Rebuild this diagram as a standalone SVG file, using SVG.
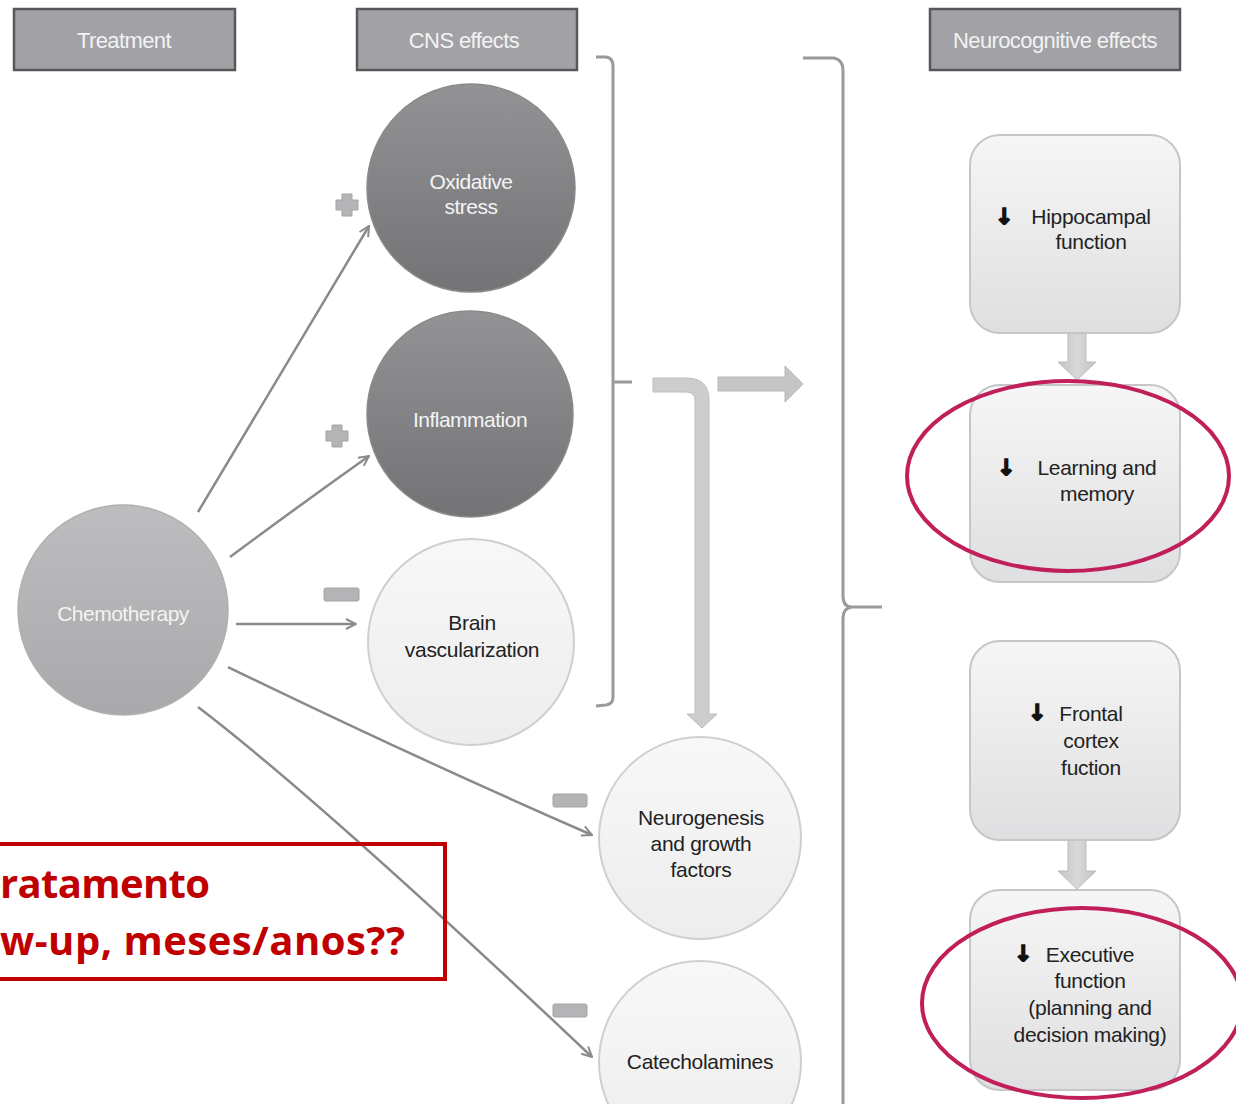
<svg xmlns="http://www.w3.org/2000/svg" width="1236" height="1104" viewBox="0 0 1236 1104">
<style>
.hdr{fill:#a2a2a6;stroke:#58585a;stroke-width:2.5}
.htxt{font-family:"Liberation Sans",Arial,sans-serif;font-size:22px;fill:#f2f2f2;text-anchor:middle;letter-spacing:-0.6px}
.wtxt{font-family:"Liberation Sans",Arial,sans-serif;font-size:21px;fill:#f4f4f4;text-anchor:middle;letter-spacing:-0.5px}
.btxt{font-family:"Liberation Sans",Arial,sans-serif;font-size:21px;fill:#222;text-anchor:middle;letter-spacing:-0.3px}
.arrtxt{font-family:"DejaVu Sans",sans-serif;font-weight:bold;font-size:22px;fill:#111;stroke:#111;stroke-width:1.6}
.conn{stroke:#8a8a8a;stroke-width:2.5;fill:none}
.brk{stroke:#9a9a9a;stroke-width:3;fill:none}
.sign{fill:#b4b4b6;stroke:#a4a4a6;stroke-width:1}
.lite{fill:url(#lightC);stroke:#cfcfcf;stroke-width:2}
.dark{fill:url(#darkC);stroke:#8a8a8c;stroke-width:1.5}
.box{fill:url(#boxG);stroke:#c6c6c8;stroke-width:2}
.red{fill:none;stroke:#c01f5a;stroke-width:4}
.redtxt{font-family:"Open Sans","Liberation Sans",sans-serif;font-weight:bold;font-size:40px;fill:#c00000}
</style>
<defs>
<linearGradient id="darkC" x1="0" y1="0" x2="0" y2="1">
<stop offset="0" stop-color="#939396"/><stop offset="1" stop-color="#737376"/>
</linearGradient>
<linearGradient id="chemoC" x1="0" y1="0" x2="0" y2="1">
<stop offset="0" stop-color="#bdbdbf"/><stop offset="1" stop-color="#a9a9ac"/>
</linearGradient>
<linearGradient id="lightC" x1="0" y1="0" x2="0" y2="1">
<stop offset="0" stop-color="#f8f8f8"/><stop offset="1" stop-color="#ededed"/>
</linearGradient>
<linearGradient id="boxG" x1="0" y1="0" x2="0" y2="1">
<stop offset="0" stop-color="#f6f6f6"/><stop offset="1" stop-color="#dfdfe1"/>
</linearGradient>
<linearGradient id="thickV" x1="0" y1="0" x2="1" y2="0">
<stop offset="0" stop-color="#c4c4c4"/><stop offset="0.5" stop-color="#d8d8d8"/><stop offset="1" stop-color="#c4c4c4"/>
</linearGradient>
<marker id="ah" viewBox="0 0 12 12" refX="11" refY="6" markerWidth="12" markerHeight="12" markerUnits="userSpaceOnUse" orient="auto">
<path d="M1,1 L11,6 L1,11" fill="none" stroke="#8a8a8a" stroke-width="2"/>
</marker>
</defs>
<rect width="1236" height="1104" fill="#ffffff"/>

<g id="hdr-treatment"><rect class="hdr" x="14" y="9" width="221" height="61"/><text class="htxt" x="124" y="48">Treatment</text></g>
<g id="hdr-cns"><rect class="hdr" x="357" y="9" width="220" height="61"/><text class="htxt" x="464" y="48">CNS effects</text></g>
<g id="hdr-neuro"><rect class="hdr" x="930" y="9" width="250" height="61"/><text class="htxt" x="1055" y="48">Neurocognitive effects</text></g>

<g id="connectors">
<path class="conn" d="M198,512 L369,226" marker-end="url(#ah)"/>
<path class="conn" d="M230,557 Q300,505 369,456" marker-end="url(#ah)"/>
<path class="conn" d="M236,624 L356,624" marker-end="url(#ah)"/>
<path class="conn" d="M228,667 Q420,760 592,835" marker-end="url(#ah)"/>
<path class="conn" d="M198,707 Q320,800 592,1057" marker-end="url(#ah)"/>
<path class="brk" d="M596,57 L606,57 Q613,58 613,66 L613,697 Q613,704 606,705 L596,706 M613,382 L632,382"/>
<path class="brk" d="M803,58 L834,58 Q843,60 843,70 L843,596 Q843,607 852,607 L882,607 M852,607 Q843,608 843,618 L843,1104"/>
<path d="M653,378 L686,378 Q709,378 709,400 L709,714 L717,714 L702,728 L687,714 L695,714 L695,400 Q695,392 686,392 L653,392 Z" fill="#cdcdcd" stroke="#bdbdbd" stroke-width="1"/>
<path d="M718,377 L785,377 L785,366 L803,384 L785,402 L785,391 L718,391 Z" fill="#c6c6c6" stroke="#b8b8b8" stroke-width="1"/>
<path d="M1068,333 L1086,333 L1086,362 L1096,362 L1077,380 L1058,362 L1068,362 Z" fill="url(#thickV)" stroke="#bcbcbc" stroke-width="1"/>
<path d="M1068,840 L1086,840 L1086,871 L1096,871 L1077,889 L1058,871 L1068,871 Z" fill="url(#thickV)" stroke="#bcbcbc" stroke-width="1"/>
<path class="sign" d="M342,194 h10 v6 h6 v10 h-6 v6 h-10 v-6 h-6 v-10 h6 z"/>
<path class="sign" d="M332,425 h10 v6 h6 v10 h-6 v6 h-10 v-6 h-6 v-10 h6 z"/>
<rect class="sign" x="324" y="588" width="35" height="13" rx="2"/>
<rect class="sign" x="553" y="794" width="34" height="13" rx="2"/>
<rect class="sign" x="553" y="1004" width="34" height="13" rx="2"/>
</g>

<g id="node-oxidative"><circle class="dark" cx="471" cy="188" r="104"/><text class="wtxt" x="471" y="189">Oxidative</text><text class="wtxt" x="471" y="214">stress</text></g>
<g id="node-inflammation"><circle class="dark" cx="470" cy="414" r="103"/><text class="wtxt" x="470" y="427">Inflammation</text></g>
<g id="node-brainvasc"><circle class="lite" cx="471" cy="642" r="103"/><text class="btxt" x="472" y="630">Brain</text><text class="btxt" x="472" y="657">vascularization</text></g>
<g id="node-chemo"><circle cx="123" cy="610" r="105" fill="url(#chemoC)" stroke="#b0b0b2" stroke-width="1.5"/><text class="wtxt" x="123" y="621">Chemotherapy</text></g>
<g id="node-neurogenesis"><circle class="lite" cx="700" cy="838" r="101"/><text class="btxt" x="701" y="825">Neurogenesis</text><text class="btxt" x="701" y="851">and growth</text><text class="btxt" x="701" y="877">factors</text></g>
<g id="node-catecholamines"><circle class="lite" cx="700" cy="1062" r="101"/><text class="btxt" x="700" y="1069">Catecholamines</text></g>

<g id="node-hippocampal"><rect class="box" x="970" y="135" width="210" height="198" rx="30"/><text class="arrtxt" x="995" y="224">↓</text><text class="btxt" x="1091" y="224">Hippocampal</text><text class="btxt" x="1091" y="249">function</text></g>
<g id="node-learning"><rect class="box" x="970" y="385" width="210" height="197" rx="30"/><text class="arrtxt" x="997" y="475">↓</text><text class="btxt" x="1097" y="475">Learning and</text><text class="btxt" x="1097" y="501">memory</text></g>
<g id="node-frontal"><rect class="box" x="970" y="641" width="210" height="199" rx="30"/><text class="arrtxt" x="1028" y="720">↓</text><text class="btxt" x="1091" y="721">Frontal</text><text class="btxt" x="1091" y="748">cortex</text><text class="btxt" x="1091" y="775">fuction</text></g>
<g id="node-executive"><rect class="box" x="970" y="890" width="210" height="200" rx="30"/><text class="arrtxt" x="1014" y="961">↓</text><text class="btxt" x="1090" y="962">Executive</text><text class="btxt" x="1090" y="988">function</text><text class="btxt" x="1090" y="1015">(planning and</text><text class="btxt" x="1090" y="1042">decision making)</text></g>

<g id="annotations">
<ellipse class="red" cx="1068" cy="476" rx="161" ry="95"/>
<ellipse class="red" cx="1082" cy="1003" rx="160" ry="95"/>
<rect x="-10" y="844" width="455" height="135" fill="none" stroke="#c00000" stroke-width="4"/>
<text class="redtxt" x="0" y="898" textLength="210" lengthAdjust="spacing">ratamento</text>
<text class="redtxt" x="0" y="955" textLength="405" lengthAdjust="spacing">w-up, meses/anos??</text>
</g>
</svg>
